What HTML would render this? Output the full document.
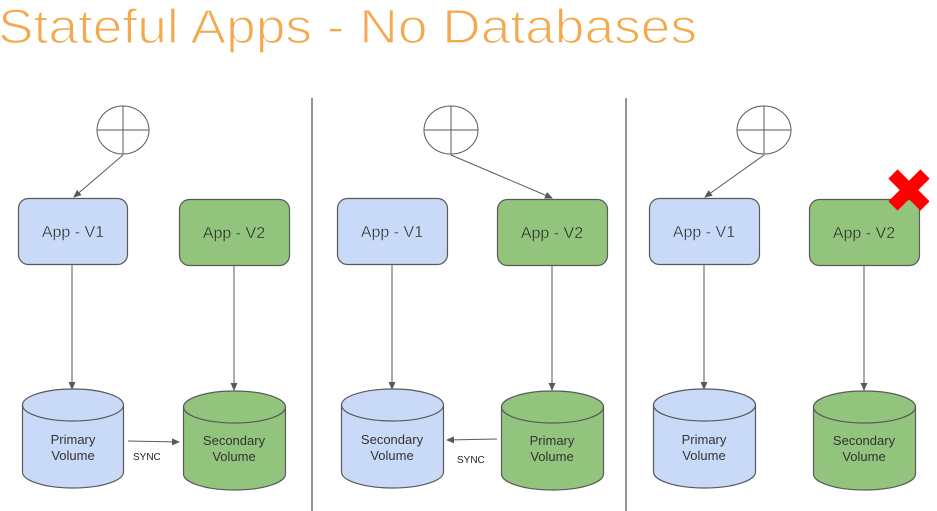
<!DOCTYPE html>
<html><head><meta charset="utf-8"><style>
html,body{margin:0;padding:0;background:#fff;}
svg{display:block;}
text{font-family:"Liberation Sans",sans-serif;}
</style></head><body>
<svg width="937" height="511" viewBox="0 0 937 511" xmlns="http://www.w3.org/2000/svg">
<defs>
<marker id="ah" markerWidth="8" markerHeight="8" refX="7" refY="4" orient="auto" markerUnits="userSpaceOnUse">
<path d="M0,0.5 L8,4 L0,7.5 Z" fill="#595959"/>
</marker>
</defs>
<text x="-2" y="43" font-size="48" fill="#f4a94e" stroke="#fff" stroke-width="1.3" textLength="699" lengthAdjust="spacingAndGlyphs">Stateful Apps - No Databases</text>

<line x1="312" y1="98" x2="312" y2="511" stroke="#595959" stroke-width="1.3"/>
<line x1="626" y1="98" x2="626" y2="511" stroke="#595959" stroke-width="1.3"/>

<g stroke="#595959" stroke-width="1" fill="none">
<ellipse cx="123" cy="130" rx="26" ry="24" fill="#fff"/>
<line x1="97" y1="130" x2="149" y2="130"/><line x1="123" y1="106" x2="123" y2="154"/>
<ellipse cx="451" cy="130" rx="27" ry="24" fill="#fff"/>
<line x1="424" y1="130" x2="478" y2="130"/><line x1="451" y1="106" x2="451" y2="154"/>
<ellipse cx="764" cy="130" rx="27" ry="24" fill="#fff"/>
<line x1="737" y1="130" x2="791" y2="130"/><line x1="764" y1="106" x2="764" y2="154"/>
<line x1="123" y1="155" x2="74" y2="197" marker-end="url(#ah)"/>
<line x1="451" y1="155" x2="552" y2="198" marker-end="url(#ah)"/>
<line x1="764" y1="155" x2="705" y2="197" marker-end="url(#ah)"/>
<line x1="72" y1="264" x2="72" y2="389" marker-end="url(#ah)"/>
<line x1="234" y1="265" x2="234" y2="390" marker-end="url(#ah)"/>
<line x1="392" y1="264" x2="392" y2="389" marker-end="url(#ah)"/>
<line x1="552" y1="265" x2="552" y2="390" marker-end="url(#ah)"/>
<line x1="704" y1="264" x2="704" y2="389" marker-end="url(#ah)"/>
<line x1="864" y1="265" x2="864" y2="390" marker-end="url(#ah)"/>
<line x1="128" y1="441" x2="179" y2="442" marker-end="url(#ah)"/>
<line x1="497" y1="439" x2="447" y2="440" marker-end="url(#ah)"/>
</g>

<g stroke="#595959" stroke-width="1.2">
<rect x="18.5" y="198.5" width="109" height="66" rx="10" fill="#c9daf8"/>
<rect x="179.5" y="199.5" width="110" height="66" rx="10" fill="#93c47d"/>
<rect x="337.5" y="198.5" width="110" height="66" rx="10" fill="#c9daf8"/>
<rect x="497.5" y="199.5" width="110" height="66" rx="10" fill="#93c47d"/>
<rect x="649.5" y="198.5" width="110" height="66" rx="10" fill="#c9daf8"/>
<rect x="809.5" y="199.5" width="110" height="66" rx="10" fill="#93c47d"/>

<path d="M22.5,405 A50.5,16 0 0 1 123.5,405 L123.5,472 A50.5,16 0 0 1 22.5,472 Z" fill="#c9daf8"/>
<path d="M22.5,405 A50.5,16 0 0 0 123.5,405" fill="none"/>
<path d="M183.5,407 A51,16 0 0 1 285.5,407 L285.5,474 A51,16 0 0 1 183.5,474 Z" fill="#93c47d"/>
<path d="M183.5,407 A51,16 0 0 0 285.5,407" fill="none"/>

<path d="M341.5,405 A51,16 0 0 1 443.5,405 L443.5,472 A51,16 0 0 1 341.5,472 Z" fill="#c9daf8"/>
<path d="M341.5,405 A51,16 0 0 0 443.5,405" fill="none"/>
<path d="M501.5,407 A51,16 0 0 1 603.5,407 L603.5,474 A51,16 0 0 1 501.5,474 Z" fill="#93c47d"/>
<path d="M501.5,407 A51,16 0 0 0 603.5,407" fill="none"/>

<path d="M653.5,405 A51,16 0 0 1 755.5,405 L755.5,472 A51,16 0 0 1 653.5,472 Z" fill="#c9daf8"/>
<path d="M653.5,405 A51,16 0 0 0 755.5,405" fill="none"/>
<path d="M813.5,407 A51,16 0 0 1 915.5,407 L915.5,474 A51,16 0 0 1 813.5,474 Z" fill="#93c47d"/>
<path d="M813.5,407 A51,16 0 0 0 915.5,407" fill="none"/>
</g>

<g stroke="#ff0000" stroke-width="13" stroke-linecap="butt">
<line x1="893" y1="174" x2="925" y2="206"/>
<line x1="925" y1="174" x2="893" y2="206"/>
</g>

<g font-size="16" fill="#222" text-anchor="middle">
<text x="73" y="237" stroke="#c9daf8" stroke-width="0.4">App - V1</text>
<text x="234" y="238" stroke="#93c47d" stroke-width="0.4">App - V2</text>
<text x="392" y="237" stroke="#c9daf8" stroke-width="0.4">App - V1</text>
<text x="552" y="238" stroke="#93c47d" stroke-width="0.4">App - V2</text>
<text x="704" y="237" stroke="#c9daf8" stroke-width="0.4">App - V1</text>
<text x="864" y="238" stroke="#93c47d" stroke-width="0.4">App - V2</text>
</g>
<g font-size="13" fill="#333" text-anchor="middle">
<text x="73" y="444">Primary</text><text x="73" y="460">Volume</text>
<text x="234" y="445">Secondary</text><text x="234" y="461">Volume</text>
<text x="392" y="444">Secondary</text><text x="392" y="460">Volume</text>
<text x="552" y="445">Primary</text><text x="552" y="461">Volume</text>
<text x="704" y="444">Primary</text><text x="704" y="460">Volume</text>
<text x="864" y="445">Secondary</text><text x="864" y="461">Volume</text>
</g>
<g font-size="10" fill="#222">
<text x="133" y="460">SYNC</text>
<text x="457" y="463">SYNC</text>
</g>
</svg>
</body></html>
